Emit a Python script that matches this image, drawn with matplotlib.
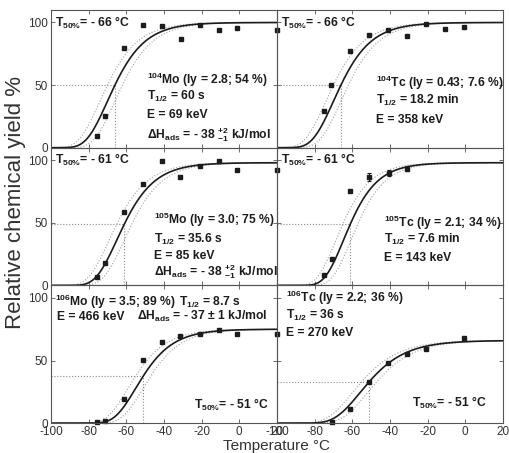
import numpy as np
import matplotlib
matplotlib.use("Agg")
import matplotlib.pyplot as plt

plt.rcParams['font.family'] = ['Liberation Sans', 'DejaVu Sans']
plt.rcParams['mathtext.fontset'] = 'custom'
plt.rcParams['mathtext.rm'] = 'Liberation Sans:bold'
plt.rcParams['mathtext.it'] = 'Liberation Sans:bold'
plt.rcParams['mathtext.bf'] = 'Liberation Sans:bold'
plt.rcParams['mathtext.sf'] = 'Liberation Sans:bold'

# measured yields, one list per nuclide (temperature in degC, yield in %)
mo104_T = [-75.5, -71.4, -61, -51.3, -41, -31, -21, -11, -1, 20]
mo104_Y = [9, 25, 80, 98, 97, 87, 98, 94, 95.5, 94]
tc104_T = [-75, -71.2, -61, -51, -41, -31, -20.7, -10.6, -0.5]
tc104_Y = [29, 50, 77.5, 90, 94, 89, 99, 95, 96]
mo105_T = [-75.3, -71.4, -61.4, -51.3, -41.2, -31.2, -21, -10.9, -1, 20]
mo105_Y = [7, 18, 59, 81, 99.5, 86.5, 95.5, 99, 92.5, 92]
tc105_T = [-75, -71, -61, -51, -40.6, -30.9]
tc105_Y = [8, 21, 75.5, 86.5, 89.5, 93]
tc105_err = [0, 0, 0, 3, 2.5, 2]
mo106_T = [-75.3, -71.4, -61, -51.3, -41.2, -31.2, -21, -11, -1, 20]
mo106_Y = [0.5, 2, 19, 50.5, 65, 69.5, 71, 74.5, 71.5, 71]
tc106_T = [-71, -61, -51, -41, -30.8, -20.7, -0.4]
tc106_Y = [0.5, 11.5, 33, 48, 55, 59.5, 68]

# fit parameters: T50 (degC), plateau (%), slope
t50 = [-66, -66, -61, -61, -51, -51]
plateau = [100, 100, 98, 98, 75, 66]
slope = [0.09, 0.09, 0.09, 0.10, 0.09, 0.075]

panel_T = [mo104_T, tc104_T, mo105_T, tc105_T, mo106_T, tc106_T]
panel_Y = [mo104_Y, tc104_Y, mo105_Y, tc105_Y, mo106_Y, tc106_Y]

xticks = [-100, -80, -60, -40, -20, 0, 20]
yticks = [0, 50, 100]

ink = '#1c1c1c'


def fit_curve(T, t_half, a, k):
    return a * np.exp(-np.log(2) * np.exp(k * (t_half - T)))


fig, axes = plt.subplots(3, 2, sharex=True, sharey=True, figsize=(5.09, 4.53))
fig.subplots_adjust(left=0.1, right=0.988, top=0.978, bottom=0.066,
                    wspace=0, hspace=0)
fig.patch.set_facecolor('white')

T = np.linspace(-100, 20, 400)
for i, ax in enumerate(axes.flat):
    ax.set_facecolor('none')
    a, th, k = plateau[i], t50[i], slope[i]
    # uncertainty curves
    for dt in (-4, 4):
        ax.plot(T, fit_curve(T, th + dt, a, k), ls=':', color='#a0a0a0', lw=0.8)
    ax.plot([-100, th], [a / 2, a / 2], ls=':', color='#8a8a8a', lw=0.8)
    ax.plot([th, th], [0, a / 2], ls=':', color='#8a8a8a', lw=0.8)
    ax.plot(T, fit_curve(T, th, a, k), color=ink, lw=1.2)
    if i == 3:
        ax.errorbar(panel_T[i], panel_Y[i], yerr=tc105_err, fmt='s', ms=2.8,
                    color=ink, elinewidth=0.8, capsize=1.5, capthick=0.8)
    else:
        ax.plot(panel_T[i], panel_Y[i], 's', ms=2.8, color=ink, clip_on=False)
    ax.set_xlim(-100, 20)
    ax.set_ylim(0, 110)
    ax.set_xticks(xticks)
    ax.set_yticks(yticks)
    ax.tick_params(direction='in', length=3, width=0.6, top=True, right=True,
                   labelsize=8.5, labelcolor='#333333', color='#555555', pad=2)
    for s in ax.spines.values():
        s.set_color('#555555')
        s.set_linewidth(0.8)

axes[2, 0].set_xticklabels(['-100', '-80', '-60', '-40', '-20', '0', ''])
axes[2, 1].set_xticklabels(['-100', '-80', '-60', '-40', '-20', '0', '20'])

kw = dict(fontsize=8.7, fontweight='bold', color=ink, va='center', ha='left')

ax = axes[0, 0]
ax.text(0.02, 0.906, r'T$_{50\%}$= - 66 °C', transform=ax.transAxes, **kw)
ax.text(0.427, 0.492, r'$^{104}$Mo (Iy = 2.8; 54 %)', transform=ax.transAxes,
        clip_on=False, **kw)
ax.text(0.427, 0.37, r'T$_{1/2}$ = 60 s', transform=ax.transAxes, **kw)
ax.text(0.427, 0.237, 'E = 69 keV', transform=ax.transAxes, **kw)
ax.text(0.427, 0.092, r'ΔH$_{ads}$ = - 38 $^{+2}_{-1}$ kJ/mol',
        transform=ax.transAxes, **kw)

ax = axes[0, 1]
ax.text(0.018, 0.906, r'T$_{50\%}$= - 66 °C', transform=ax.transAxes, **kw)
ax.text(0.44, 0.47, r'$^{104}$Tc (Iy = 0.43; 7.6 %)', transform=ax.transAxes, **kw)
ax.text(0.44, 0.346, r'T$_{1/2}$ = 18.2 min', transform=ax.transAxes, **kw)
ax.text(0.44, 0.201, 'E = 358 keV', transform=ax.transAxes, **kw)

ax = axes[1, 0]
ax.text(0.02, 0.911, r'T$_{50\%}$= - 61 °C', transform=ax.transAxes, **kw)
ax.text(0.458, 0.475, r'$^{105}$Mo (Iy = 3.0; 75 %)', transform=ax.transAxes, **kw)
ax.text(0.458, 0.33, r'T$_{1/2}$ = 35.6 s', transform=ax.transAxes, **kw)
ax.text(0.458, 0.214, 'E = 85 keV', transform=ax.transAxes, **kw)
ax.text(0.458, 0.098, r'ΔH$_{ads}$ = - 38 $^{+2}_{-1}$ kJ/mol',
        transform=ax.transAxes, **kw)

ax = axes[1, 1]
ax.text(0.018, 0.911, r'T$_{50\%}$= - 61 °C', transform=ax.transAxes, **kw)
ax.text(0.476, 0.453, r'$^{105}$Tc (Iy = 2.1; 34 %)', transform=ax.transAxes, **kw)
ax.text(0.476, 0.33, r'T$_{1/2}$ = 7.6 min', transform=ax.transAxes, **kw)
ax.text(0.476, 0.20, 'E = 143 keV', transform=ax.transAxes, **kw)

ax = axes[2, 0]
ax.text(0.018, 0.879, r'$^{106}$Mo (Iy = 3.5; 89 %)', transform=ax.transAxes, **kw)
ax.text(0.568, 0.879, r'T$_{1/2}$ = 8.7 s', transform=ax.transAxes, **kw)
ax.text(0.025, 0.772, 'E = 466 keV', transform=ax.transAxes, **kw)
ax.text(0.383, 0.772, r'ΔH$_{ads}$ = - 37 ± 1 kJ/mol', transform=ax.transAxes, **kw)
ax.text(0.634, 0.131, r'T$_{50\%}$= - 51 °C', transform=ax.transAxes, **kw)

ax = axes[2, 1]
ax.text(0.04, 0.908, r'$^{106}$Tc (Iy = 2.2; 36 %)', transform=ax.transAxes, **kw)
ax.text(0.04, 0.784, r'T$_{1/2}$ = 36 s', transform=ax.transAxes, **kw)
ax.text(0.04, 0.653, 'E = 270 keV', transform=ax.transAxes, **kw)
ax.text(0.6, 0.145, r'T$_{50\%}$= - 51 °C', transform=ax.transAxes, **kw)

fig.text(0.544, 0.016, 'Temperature °C', ha='center', va='center',
         fontsize=11, color='#333333')
fig.text(0.03, 0.552, 'Relative chemical yield %', ha='center', va='center',
         rotation=90, fontsize=16, color='#333333')

fig.savefig('out.png', dpi=100)
